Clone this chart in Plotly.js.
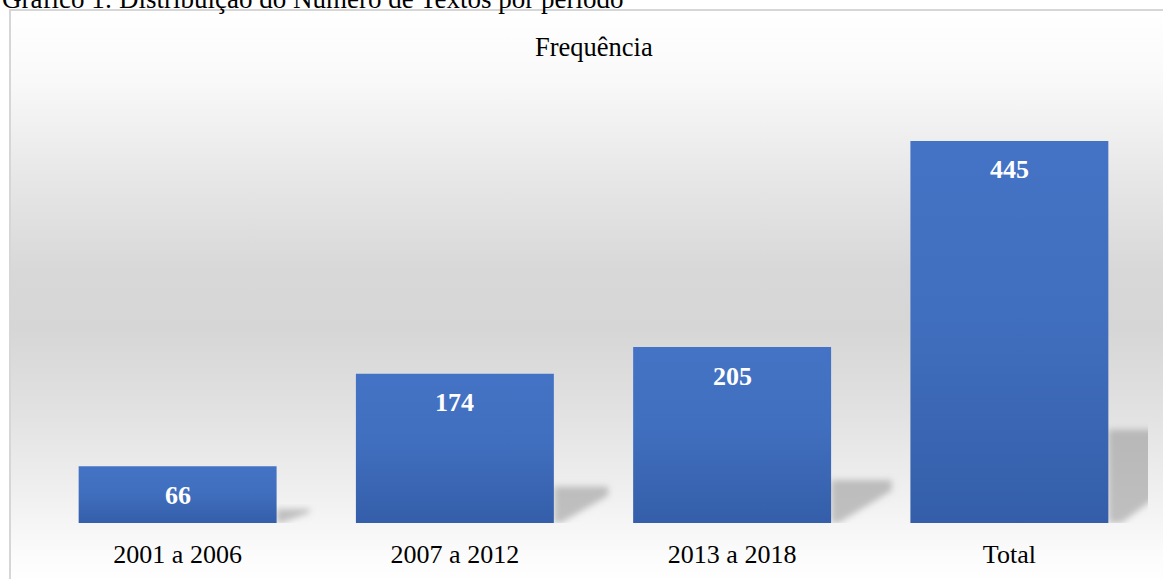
<!DOCTYPE html>
<html>
<head>
<meta charset="utf-8">
<script src="https://cdn.plot.ly/plotly-3.0.1.min.js"></script>
<style>
  html, body { margin: 0; padding: 0; background: #ffffff; overflow: hidden; }
  #frame {
    position: absolute; left: 9px; top: 9px; width: 1160px; height: 580px;
    border: 2px solid #d6d6d6; box-sizing: border-box;
    background: linear-gradient(to bottom, #ffffff 0%, #f9f9f9 12%, #e8e8e8 28%, #d8d8d8 45%, #d6d6d6 55%, #e2e2e2 70%, #f1f1f1 85%, #fcfcfc 95%, #ffffff 100%);
  }
  #chart { position: absolute; left: 0; top: 0; width: 1163px; height: 579px; }
</style>
</head>
<body>
<div id="frame"></div>
<div id="chart"></div>
<script>
const categories = ["2001 a 2006", "2007 a 2012", "2013 a 2018", "Total"];
const frequencies = [66, 174, 205, 445];
const chartTitle = "Frequência";
const captionText = "Gráfico 1: Distribuição do Número de Textos por período";

const serif = "'Liberation Serif', 'Times New Roman', serif";
const yMax = 504.4;
const halfBar = 0.357;

const shadowShapes = frequencies.map(function (v, i) {
  const r = i + halfBar;
  const barPx = v * 0.8584;
  const w = (20 + 0.23 * barPx) / 277.3;
  const h = v * 0.245;
  return {
    type: "path", xref: "x", yref: "y", layer: "below",
    path: "M " + r + "," + 0 + " L " + r + "," + h + " L " + (r + w) + "," + h +
          " L " + (r + w) + "," + (h * 0.75) + " L " + (r + w * 0.12) + "," + 0 + " Z",
    fillcolor: "rgba(140,140,140,0.5)", line: { width: 0 }
  };
});

const labelAnnotations = frequencies.map(function (v, i) {
  return {
    x: categories[i], y: v, xref: "x", yref: "y", yshift: -29,
    text: "<b>" + v + "</b>", showarrow: false,
    font: { family: serif, size: 26, color: "#ffffff" }
  };
});

const data = [{
  type: "bar", x: categories, y: frequencies,
  marker: { color: "#3d68b6", line: { width: 0 } },
  hoverinfo: "skip"
}];

const layout = {
  width: 1163, height: 579,
  margin: { l: 39, r: 15, t: 90, b: 56, pad: 0 },
  paper_bgcolor: "rgba(0,0,0,0)", plot_bgcolor: "rgba(0,0,0,0)",
  bargap: 0.286,
  showlegend: false,
  xaxis: {
    type: "category", range: [-0.5, 3.5], fixedrange: true,
    showgrid: false, zeroline: false, showline: false, ticks: "",
    tickfont: { family: serif, size: 26, color: "#000000" },
    ticklabelstandoff: 13
  },
  yaxis: { visible: false, range: [0, yMax], fixedrange: true },
  shapes: shadowShapes,
  annotations: [{
    text: chartTitle, xref: "paper", yref: "paper", x: 0.5, y: 1, yshift: 43,
    xanchor: "center", yanchor: "middle", showarrow: false,
    font: { family: serif, size: 26.5, color: "#000000" }
  }, {
    text: captionText, xref: "paper", yref: "paper", x: 0, xshift: -39, y: 1, yshift: 91,
    xanchor: "left", yanchor: "middle", showarrow: false,
    font: { family: serif, size: 27, color: "#000000" }
  }].concat(labelAnnotations)
};

Plotly.newPlot("chart", data, layout, { staticPlot: true }).then(function (gd) {
  const svg = gd.querySelector(".main-svg");
  const ns = "http://www.w3.org/2000/svg";
  let defs = svg.querySelector("defs");
  if (!defs) { defs = document.createElementNS(ns, "defs"); svg.insertBefore(defs, svg.firstChild); }
  const grad = document.createElementNS(ns, "linearGradient");
  grad.setAttribute("id", "barGrad");
  grad.setAttribute("x1", "0"); grad.setAttribute("y1", "0");
  grad.setAttribute("x2", "0"); grad.setAttribute("y2", "1");
  [["0", "#4473c5"], ["0.45", "#416fbf"], ["1", "#345ea9"]].forEach(function (s) {
    const st = document.createElementNS(ns, "stop");
    st.setAttribute("offset", s[0]); st.setAttribute("stop-color", s[1]);
    grad.appendChild(st);
  });
  defs.appendChild(grad);
  const filt = document.createElementNS(ns, "filter");
  filt.setAttribute("id", "shadowBlur");
  filt.setAttribute("x", "-30%"); filt.setAttribute("y", "-30%");
  filt.setAttribute("width", "160%"); filt.setAttribute("height", "160%");
  const blur = document.createElementNS(ns, "feGaussianBlur");
  blur.setAttribute("stdDeviation", "3");
  filt.appendChild(blur);
  defs.appendChild(filt);
  gd.querySelectorAll(".bars .point path").forEach(function (p) { p.style.fill = "url(#barGrad)"; });
  gd.querySelectorAll(".shapelayer path").forEach(function (p) {
    p.setAttribute("filter", "url(#shadowBlur)");
    p.style.filter = "url(#shadowBlur)";
  });
});
</script>
</body>
</html>
